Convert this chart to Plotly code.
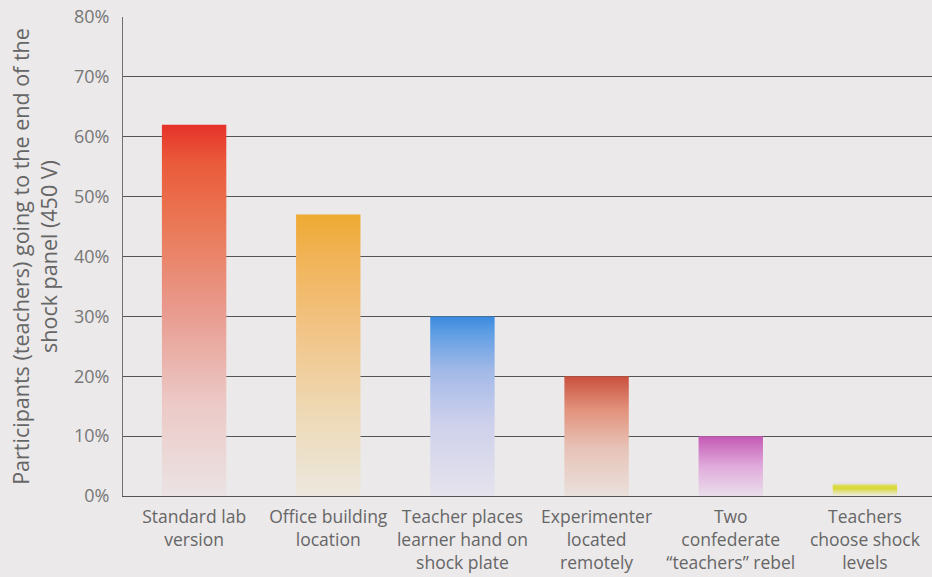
import plotly.graph_objects as go

# Milgram obedience variations: share of "teachers" who went to 450 V
categories = [
    "Standard lab<br>version",
    "Office building<br>location",
    "Teacher places<br>learner hand on<br>shock plate",
    "Experimenter<br>located<br>remotely",
    "Two<br>confederate<br>\u201cteachers\u201d rebel",
    "Teachers<br>choose shock<br>levels",
]
percent_to_end = [62, 47, 30, 20, 10, 2.5]

# vertical colour ramps for each bar (0 = bottom, 1 = top)
bar_ramps = [
    [[0, "#ebe3e4"], [0.25, "#ecc9c6"], [0.5, "#e99a8e"], [0.72, "#ea7a58"], [0.9, "#ea5a3a"], [1, "#e5322a"]],
    [[0, "#ece7de"], [0.3, "#eed9b4"], [0.6, "#f2c384"], [0.85, "#f1b356"], [1, "#eeaa32"]],
    [[0, "#e5e3ec"], [0.4, "#cfd1ec"], [0.7, "#a2b9e8"], [0.9, "#629fe4"], [1, "#3a8ae0"]],
    [[0, "#eae0dc"], [0.4, "#e7c3b7"], [0.72, "#e2927c"], [1, "#c9503e"]],
    [[0, "#eadeea"], [0.5, "#e0aadc"], [1, "#c458b4"]],
    [[0, "#ecebe4"], [0.3, "#e2e08a"], [0.5, "#d8d838"], [0.68, "#dcdc4a"], [0.85, "#e6e2ec"], [1, "#e9e6ee"]],
]

BG = "#ebe9ea"
HALF_W = 0.24

fig = go.Figure()
for i, (val, ramp) in enumerate(zip(percent_to_end, bar_ramps)):
    x0, x1 = i - HALF_W, i + HALF_W
    fig.add_trace(go.Scatter(
        x=[x0, x0, x1, x1, x0],
        y=[0, val, val, 0, 0],
        mode="lines",
        line=dict(width=0),
        fill="toself",
        fillgradient=dict(type="vertical", colorscale=ramp),
        hoverinfo="skip",
        showlegend=False,
    ))

fig.update_layout(
    width=932,
    height=577,
    paper_bgcolor=BG,
    plot_bgcolor=BG,
    margin=dict(l=123, r=0, t=17, b=81),
    font=dict(family="Open Sans", color="#6b6b6b"),
    showlegend=False,
)

fig.update_xaxes(
    range=[-0.53, 5.5],
    tickmode="array",
    tickvals=list(range(len(categories))),
    ticktext=categories,
    tickfont=dict(size=17.5, color="#666666"),
    showgrid=False,
    zeroline=False,
    showline=True,
    linecolor="#555555",
    linewidth=1,
    ticks="",
    ticklabelstandoff=5,
)

fig.update_yaxes(
    range=[0, 80],
    tickmode="linear",
    tick0=0,
    dtick=10,
    ticksuffix="%",
    tickfont=dict(size=18, color="#777777"),
    showgrid=True,
    gridcolor="#555555",
    gridwidth=1,
    zeroline=False,
    showline=True,
    linecolor="#707070",
    linewidth=1,
    ticks="",
    ticklabelstandoff=9,
    title=dict(
        text="Participants (teachers) going to the end of the<br>shock panel (450 V)",
        font=dict(size=21.5, color="#666666"),
        standoff=10,
    ),
)

fig.write_html("out.html")
